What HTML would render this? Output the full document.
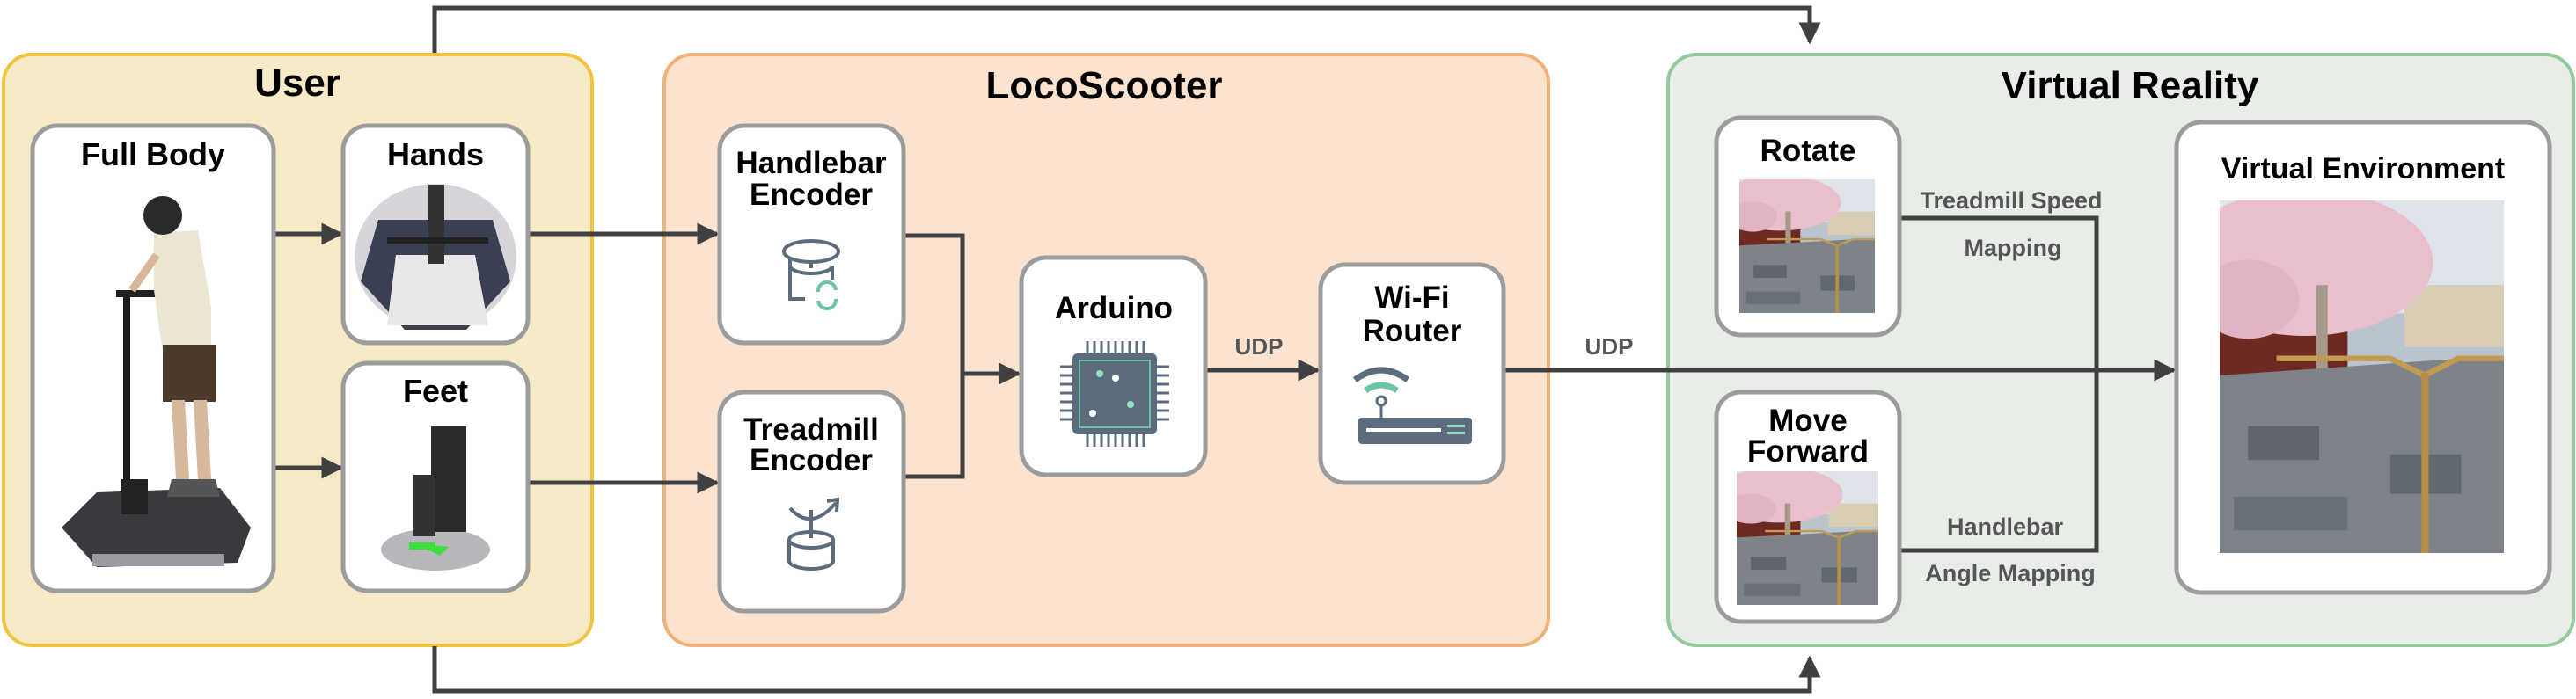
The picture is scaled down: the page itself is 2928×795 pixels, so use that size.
<!DOCTYPE html>
<html><head><meta charset="utf-8"><style>
html,body{margin:0;padding:0;background:#fff}
svg{display:block}
text{font-family:"Liberation Sans",sans-serif;font-weight:bold}
</style></head><body>
<svg width="2928" height="795" viewBox="0 0 2928 795" xmlns="http://www.w3.org/2000/svg">
<defs>
<marker id="ah" viewBox="0 0 10 10" refX="9" refY="5" markerWidth="5" markerHeight="5" orient="auto" markerUnits="strokeWidth">
<path d="M0,0 L10,5 L0,10 z" fill="#404040"/></marker>
<symbol id="scene" viewBox="0 0 100 125" preserveAspectRatio="none">
<rect width="100" height="125" fill="#b9c4cf"/>
<rect width="100" height="40" fill="#dfe3ea"/>
<rect x="65" y="30" width="35" height="22" fill="#d8cdb4"/>
<rect x="0" y="45" width="45" height="20" fill="#6e2a22"/>
<ellipse cx="30" cy="22" rx="45" ry="26" fill="#e9bfcc"/>
<ellipse cx="10" cy="35" rx="18" ry="14" fill="#e2b3c2"/>
<rect x="34" y="30" width="4" height="30" fill="#a59a8a"/>
<path d="M0,62 L100,55 L100,125 L0,125 z" fill="#7d8389"/>
<rect x="10" y="80" width="25" height="12" fill="#5f656b"/>
<rect x="60" y="90" width="25" height="14" fill="#626870"/>
<rect x="5" y="105" width="40" height="12" fill="#6a7077"/>
<path d="M20,56 L60,56 L72,62 L84,56 L100,56" stroke="#c29a52" stroke-width="2" fill="none"/>
<rect x="71" y="61" width="2.5" height="64" fill="#b78f48"/>
</symbol>
</defs>

<!-- group boxes -->
<rect x="4" y="62" width="669" height="672" rx="32" fill="#f7ebc7" stroke="#f0c43e" stroke-width="4"/>
<rect x="755" y="62" width="1005" height="672" rx="32" fill="#fbe3cf" stroke="#f1b27a" stroke-width="4"/>
<rect x="1896" y="62" width="1029" height="672" rx="32" fill="#e8ede8" stroke="#93c99c" stroke-width="4"/>

<text x="338" y="109" font-size="44" text-anchor="middle">User</text>
<text x="1255" y="112" font-size="44" text-anchor="middle">LocoScooter</text>
<text x="2421" y="112" font-size="44" text-anchor="middle">Virtual Reality</text>

<!-- connectors -->
<g stroke="#404040" stroke-width="5" fill="none">
<polyline points="494,60 494,9 2057,9 2057,48" marker-end="url(#ah)"/>
<polyline points="494,735 494,786 2057,786 2057,748" marker-end="url(#ah)"/>
<line x1="313" y1="266" x2="388" y2="266" marker-end="url(#ah)"/>
<line x1="313" y1="532" x2="388" y2="532" marker-end="url(#ah)"/>
<line x1="602" y1="266" x2="815" y2="266" marker-end="url(#ah)"/>
<line x1="602" y1="549" x2="815" y2="549" marker-end="url(#ah)"/>
<polyline points="1027,268 1094,268 1094,542 1027,542"/>
<line x1="1094" y1="425" x2="1158" y2="425" marker-end="url(#ah)"/>
<line x1="1372" y1="421" x2="1498" y2="421" marker-end="url(#ah)"/>
<line x1="1709" y1="421" x2="2471" y2="421" marker-end="url(#ah)"/>
<polyline points="2159,248 2383,248 2383,626 2159,626"/>
</g>
<text x="1431" y="403" font-size="26" fill="#555" text-anchor="middle" font-weight="bold">UDP</text>
<text x="1829" y="403" font-size="26" fill="#555" text-anchor="middle">UDP</text>
<text x="2286" y="237" font-size="27" fill="#555" text-anchor="middle">Treadmill Speed</text>
<text x="2288" y="291" font-size="27" fill="#555" text-anchor="middle">Mapping</text>
<text x="2279" y="608" font-size="27" fill="#555" text-anchor="middle">Handlebar</text>
<text x="2285" y="661" font-size="27" fill="#555" text-anchor="middle">Angle Mapping</text>

<!-- User nodes -->
<g fill="#fff" stroke="#9c9c9c" stroke-width="5">
<rect x="37" y="143" width="274" height="529" rx="28"/>
<rect x="390" y="143" width="210" height="247" rx="28"/>
<rect x="390" y="413" width="210" height="259" rx="28"/>
<rect x="818" y="143" width="209" height="247" rx="28"/>
<rect x="818" y="446" width="209" height="249" rx="28"/>
<rect x="1161" y="293" width="209" height="247" rx="28"/>
<rect x="1501" y="301" width="208" height="248" rx="28"/>
<rect x="1951" y="134" width="208" height="247" rx="28"/>
<rect x="1951" y="446" width="208" height="261" rx="28"/>
<rect x="2474" y="139" width="424" height="535" rx="28"/>
</g>
<text x="174" y="188" font-size="36" text-anchor="middle">Full Body</text>
<text x="495" y="188" font-size="36" text-anchor="middle">Hands</text>
<text x="495" y="457" font-size="36" text-anchor="middle">Feet</text>
<text x="922" y="197" font-size="35" text-anchor="middle">Handlebar</text>
<text x="922" y="233" font-size="35" text-anchor="middle">Encoder</text>
<text x="922" y="500" font-size="35" text-anchor="middle">Treadmill</text>
<text x="922" y="535" font-size="35" text-anchor="middle">Encoder</text>
<text x="1266" y="362" font-size="35" text-anchor="middle">Arduino</text>
<text x="1605" y="350" font-size="35" text-anchor="middle">Wi-Fi</text>
<text x="1605" y="388" font-size="35" text-anchor="middle">Router</text>
<text x="2055" y="183" font-size="35" text-anchor="middle">Rotate</text>
<text x="2055" y="490" font-size="35" text-anchor="middle">Move</text>
<text x="2055" y="525" font-size="35" text-anchor="middle">Forward</text>
<text x="2686" y="203" font-size="34" text-anchor="middle">Virtual Environment</text>

<!-- full body picture -->
<g>
<path d="M70,600 L110,560 L250,555 L285,600 L270,640 L110,645 z" fill="#3a3a3e"/>
<rect x="105" y="630" width="150" height="14" fill="#9a9aa0"/>
<rect x="140" y="338" width="8" height="210" fill="#1e1e1e"/>
<rect x="138" y="545" width="30" height="40" fill="#222"/>
<rect x="132" y="330" width="55" height="8" fill="#222"/>
<path d="M175,265 L225,262 L240,350 L240,395 L185,400 L175,330 z" fill="#eae6d2"/>
<rect x="185" y="392" width="60" height="65" fill="#4b3a2c"/>
<path d="M195,455 L210,455 L215,545 L200,545 z M220,455 L235,455 L240,545 L225,545 z" fill="#d8b89a"/>
<circle cx="185" cy="245" r="22" fill="#2a2a2a"/>
<path d="M195,545 L245,545 L250,565 L190,565 z" fill="#555"/>
<path d="M178,290 L150,330" stroke="#d8b89a" stroke-width="9"/>
</g>
<!-- hands picture -->
<ellipse cx="495" cy="292" rx="92" ry="83" fill="#d6d6da"/>
<path d="M430,250 L560,250 L580,320 L530,375 L460,375 L410,320 z" fill="#3a3f52"/>
<path d="M450,290 L540,290 L555,370 L440,370 z" fill="#e8e8ea"/>
<rect x="487" y="210" width="18" height="90" fill="#333"/>
<rect x="440" y="270" width="115" height="7" fill="#222"/>
<!-- feet picture -->
<ellipse cx="495" cy="625" rx="62" ry="24" fill="#b8b8bc"/>
<rect x="490" y="485" width="40" height="120" fill="#2a2a2a"/>
<rect x="470" y="540" width="25" height="70" fill="#333"/>
<path d="M470,618 L510,622 L500,632 Z" fill="#3ce03c"/>
<rect x="465" y="617" width="30" height="8" fill="#3ce03c"/>

<!-- handlebar encoder icon -->
<g stroke="#5c6c7c" stroke-width="4" fill="none">
<ellipse cx="922" cy="286" rx="31" ry="12"/>
<path d="M898,295 L898,340 L915,340"/>
<path d="M898,302 A24 9 0 0 0 946,302 L946,318"/>
<line x1="922" y1="298" x2="922" y2="305"/>
</g>
<g stroke="#6cc4a4" stroke-width="4" fill="none">
<path d="M930,332 A10 10 0 0 1 950,330"/><path d="M950,340 A10 10 0 0 1 930,342"/>
</g>
<!-- treadmill encoder icon -->
<g stroke="#5c6c7c" stroke-width="4" fill="none">
<path d="M898,578 Q922,605 950,572"/><path d="M940,570 L952,568 L951,582"/>
<line x1="922" y1="580" x2="922" y2="612"/>
<ellipse cx="922" cy="614" rx="25" ry="9"/>
<path d="M897,614 L897,638 A25 9 0 0 0 947,638 L947,614"/>
</g>
<!-- chip -->
<g>
<g stroke="#5c6c7c" stroke-width="3">
<path d="M1236,388 v16 M1244,388 v16 M1252,388 v16 M1260,388 v16 M1268,388 v16 M1276,388 v16 M1284,388 v16 M1292,388 v16 M1300,388 v16"/>
<path d="M1236,492 v16 M1244,492 v16 M1252,492 v16 M1260,492 v16 M1268,492 v16 M1276,492 v16 M1284,492 v16 M1292,492 v16 M1300,492 v16"/>
<path d="M1205,417 h16 M1205,427 h16 M1205,437 h16 M1205,447 h16 M1205,457 h16 M1205,467 h16 M1205,477 h16"/>
<path d="M1313,417 h16 M1313,427 h16 M1313,437 h16 M1313,447 h16 M1313,457 h16 M1313,467 h16 M1313,477 h16"/>
</g>
<rect x="1219" y="402" width="96" height="92" rx="6" fill="#5c6c7c"/>
<rect x="1227" y="410" width="80" height="76" fill="none" stroke="#6cc4a4" stroke-width="2"/>
<circle cx="1250" cy="425" r="4" fill="#8fe0c4"/><circle cx="1285" cy="460" r="4" fill="#8fe0c4"/>
<circle cx="1268" cy="430" r="4" fill="#fff"/><circle cx="1242" cy="470" r="4" fill="#fff"/>
</g>
<!-- router -->
<g fill="none" stroke-width="7">
<path d="M1540,432 Q1570,410 1600,432" stroke="#5c6c7c"/>
<path d="M1552,444 Q1570,432 1588,444" stroke="#6cc4a4"/>
</g>
<circle cx="1570" cy="456" r="5" fill="none" stroke="#5c6c7c" stroke-width="3"/>
<line x1="1570" y1="461" x2="1570" y2="476" stroke="#5c6c7c" stroke-width="3"/>
<rect x="1544" y="475" width="129" height="30" rx="4" fill="#5c6c7c"/>
<rect x="1553" y="487" width="85" height="4" fill="#fff"/>
<rect x="1645" y="483" width="20" height="3" fill="#8fe0c4"/><rect x="1645" y="491" width="20" height="3" fill="#8fe0c4"/>

<!-- VR images -->
<use href="#scene" x="1977" y="204" width="154" height="152"/>
<use href="#scene" x="1974" y="536" width="161" height="152"/>
<use href="#scene" x="2523" y="228" width="323" height="401"/>
</svg>
</body></html>
